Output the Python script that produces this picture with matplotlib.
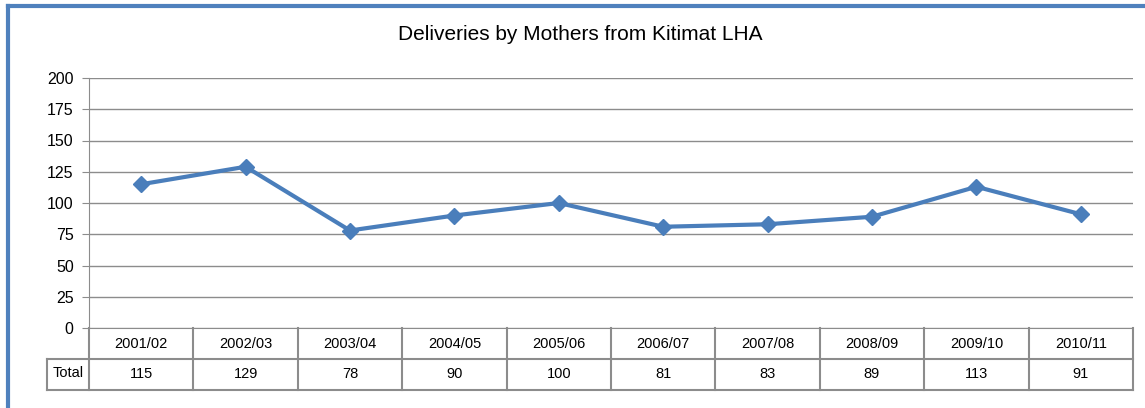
import matplotlib.pyplot as plt
import numpy as np

years = ['2001/02', '2002/03', '2003/04', '2004/05', '2005/06',
         '2006/07', '2007/08', '2008/09', '2009/10', '2010/11']
totals = [115, 129, 78, 90, 100, 81, 83, 89, 113, 91]
yticks = [0, 25, 50, 75, 100, 125, 150, 175, 200]

plt.rcParams['font.family'] = ['Liberation Sans', 'DejaVu Sans']

W, H = 1145, 408
fig = plt.figure(figsize=(W / 100, H / 100), dpi=100)

# chart border (only top and left visible)
fig.add_artist(plt.Line2D([8 / W, 8 / W], [0, 1 - 6 / H], color='#4F81BD', lw=3))
fig.add_artist(plt.Line2D([8 / W, 1], [1 - 6 / H, 1 - 6 / H], color='#4F81BD', lw=3))

x0, x1 = 89, 1133
y_top, y_zero = 78, 328
ax = fig.add_axes([x0 / W, 1 - y_zero / H, (x1 - x0) / W, (y_zero - y_top) / H])

x = np.arange(len(years))
ax.plot(x, totals, color='#4A7EBB', lw=3, marker='D', markersize=8, zorder=3)
ax.set_xlim(-0.5, len(years) - 0.5)
ax.set_ylim(0, 200)
ax.set_yticks(yticks)
ax.set_yticklabels([str(v) for v in yticks], fontsize=11.5)
ax.set_xticks([])
ax.grid(axis='y', color='#8C8C8C', lw=1)
ax.set_axisbelow(True)
for s in ['top', 'right', 'bottom']:
    ax.spines[s].set_visible(False)
ax.spines['left'].set_color('#8C8C8C')
ax.tick_params(axis='y', length=5, color='#8C8C8C', pad=6)

fig.text(580 / W, 1 - 34 / H, 'Deliveries by Mothers from Kitimat LHA',
         ha='center', va='center', fontsize=15)

# data table below the plot
tab = fig.add_axes([x0 / W, 1 - 390 / H, (x1 - x0) / W, (390 - y_zero) / H])
tab.set_xlim(-0.5, len(years) - 0.5)
tab.set_ylim(0, 2)
tab.axis('off')
lc = '#8C8C8C'
lw_cell = 42 / 104.4
tab.plot([-0.5, len(years) - 0.5], [2, 2], color=lc, lw=1.5)
tab.plot([-0.5 - lw_cell, len(years) - 0.5], [1, 1], color=lc, lw=1.5, clip_on=False)
tab.plot([-0.5 - lw_cell, len(years) - 0.5], [0, 0], color=lc, lw=1.5, clip_on=False)
for i in range(len(years) + 1):
    tab.plot([i - 0.5, i - 0.5], [0, 2], color=lc, lw=1.5, clip_on=False)
tab.plot([-0.5 - lw_cell] * 2, [0, 1], color=lc, lw=1.5, clip_on=False)
for i, (yr, t) in enumerate(zip(years, totals)):
    tab.text(i, 1.5, yr, ha='center', va='center', fontsize=10.5)
    tab.text(i, 0.5, str(t), ha='center', va='center', fontsize=10.5)
tab.text(-0.5 - lw_cell / 2, 0.55, 'Total', ha='center', va='center', fontsize=10.5)

fig.savefig('out.png', dpi=100)
